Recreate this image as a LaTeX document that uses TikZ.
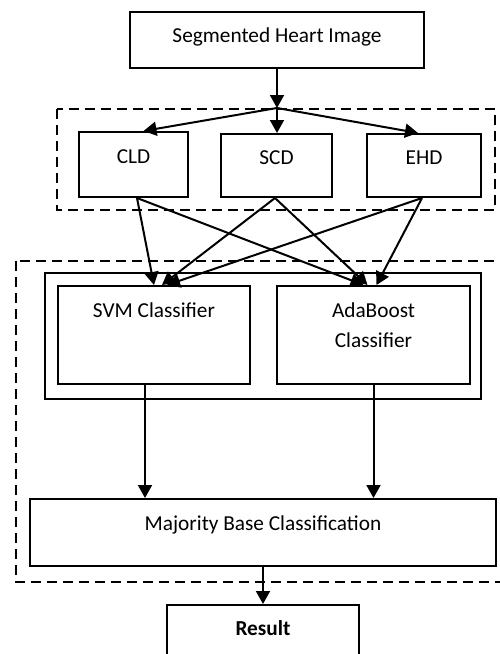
\documentclass[tikz,border=0pt]{standalone}
\usepackage{fontspec}
\setmainfont{Carlito}
\usetikzlibrary{arrows.meta, positioning, calc}

\begin{document}
\begin{tikzpicture}[
  x=1pt, y=-1pt,
  every node/.style={font=\fontsize{21.3}{30}\selectfont},
  box/.style={rectangle, draw, line width=2pt, inner sep=0pt},
  grp/.style={line width=2.4pt, dash pattern=on 10pt off 6pt},
  arr/.style={-{Triangle[length=13pt,width=14pt]}, line width=2pt},
]
  \useasboundingbox (0,0) rectangle (500,654);
  \clip (0,0) rectangle (500,654);

  % groups
  \draw[grp] (57,109) rectangle (495,210);
  \draw[grp] (16,261) rectangle (510,582);
  \draw[line width=2pt] (45,273) rectangle (481,399);

  % boxes
  \node[box, minimum width=294pt, minimum height=56pt] (img) at (277,40) {};
  \node[box, minimum width=109pt, minimum height=65pt] (cld) at (133.5,164.5) {};
  \node[box, minimum width=111pt, minimum height=63pt] (scd) at (276.5,165.5) {};
  \node[box, minimum width=114pt, minimum height=63pt] (ehd) at (424,165.5) {};
  \node[box, minimum width=192pt, minimum height=98pt] (svm) at (154,335) {};
  \node[box, minimum width=193pt, minimum height=98pt] (ada) at (373.5,335) {};
  \node[box, minimum width=466pt, minimum height=67pt] (maj) at (263,532.5) {};
  \node[box, minimum width=192pt, minimum height=90pt] (res) at (263,650) {};

  % texts
  \node (imgtxt) at (277,37) {Segmented Heart Image};
  \node (cldtxt) at (133.5,157) {CLD};
  \node (scdtxt) at (276.5,158) {SCD};
  \node (ehdtxt) at (424,158) {EHD};
  \node (svmtxt) at (154,310) {SVM Classifier};
  \node[align=center] (adatxt) at (373.5,325) {AdaBoost\\Classifier};
  \node (majtxt) at (263,525) {Majority Base Classification};
  \node (restxt) at (263,628) {\textbf{Result}};

  % arrows
  \coordinate (split) at (277,108);
  \draw[arr] (img) -- (split);
  \draw[arr] (split) -- ([xshift=10pt]cld.north);
  \draw[arr] (split) -- ([xshift=0.5pt]scd.north);
  \draw[arr] (split) -- ([xshift=-6pt]ehd.north);

  \draw[arr] ([xshift=3.5pt]cld.south) -- ([xshift=0pt]svm.north);
  \draw[arr] ([xshift=3.5pt]cld.south) -- ([xshift=-10pt]ada.north);
  \draw[arr] ([xshift=-1.5pt]scd.south) -- ([xshift=8pt]svm.north);
  \draw[arr] ([xshift=-1.5pt]scd.south) -- ([xshift=-6pt]ada.north);
  \draw[arr] ([xshift=-2pt]ehd.south) -- ([xshift=13pt]svm.north);
  \draw[arr] ([xshift=-2pt]ehd.south) -- ([xshift=3pt]ada.north);

  \draw[arr] ([xshift=-9pt]svm.south) -- ([xshift=-9pt]svm.south |- maj.north);
  \draw[arr] (ada.south) -- (ada.south |- maj.north);
  \draw[arr] (maj.south) -- (res.north);
\end{tikzpicture}
\end{document}
